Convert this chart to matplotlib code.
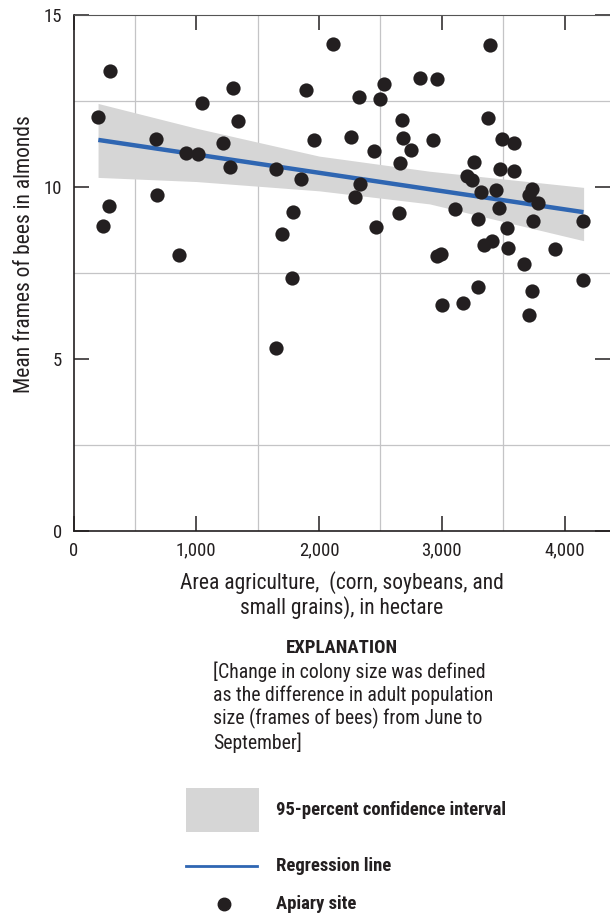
import numpy as np
import matplotlib
matplotlib.use('Agg')
import matplotlib.pyplot as plt
from matplotlib.patches import Rectangle
from matplotlib.lines import Line2D

plt.rcParams['font.family'] = ['Roboto Condensed', 'Roboto', 'DejaVu Sans']

# Apiary sites: area of agriculture (ha) vs mean frames of bees
area = [300, 200, 669, 915, 1016, 1216, 1273, 1043, 1303, 1341, 1653, 1854, 1957, 1892, 2114,
        291, 243, 679, 861, 1789, 1699, 1780, 1650,
        3389, 2819, 2960, 2526, 2326, 2494, 2676, 3378, 2258, 2684, 2928, 3492, 3592, 2746,
        2445, 2657, 3262, 3470, 3587, 3207, 3248, 2331, 2293, 3321, 3438, 3731, 3714, 3782,
        3465, 3110, 2654, 3291, 3741, 4154, 2467, 3535, 3411, 3343, 3541, 3926, 2996, 2960,
        3668, 4148, 3004, 3172, 3297, 3733, 3709]
frames = [13.37, 12.02, 11.38, 10.97, 10.95, 11.26, 10.58, 12.44, 12.88, 11.92, 10.51, 10.21, 11.35, 12.81, 14.16,
          9.44, 8.86, 9.76, 8.02, 9.26, 8.62, 7.36, 5.31,
          14.11, 13.16, 13.14, 12.99, 12.60, 12.55, 11.95, 11.99, 11.45, 11.41, 11.35, 11.38, 11.26, 11.08,
          11.04, 10.68, 10.71, 10.51, 10.46, 10.32, 10.19, 10.07, 9.71, 9.86, 9.90, 9.94, 9.76, 9.52,
          9.37, 9.34, 9.23, 9.05, 9.00, 9.00, 8.83, 8.80, 8.43, 8.31, 8.23, 8.20, 8.03, 7.99,
          7.75, 7.30, 6.56, 6.61, 7.09, 6.98, 6.27]

# Regression line end points
reg_x = [202, 4154]
reg_y = [11.36, 9.26]

# 95-percent confidence band
band_x = [200, 1000, 2000, 2900, 4155]
band_hi = [12.42, 11.70, 10.89, 10.45, 9.98]
band_lo = [10.27, 10.15, 9.88, 9.50, 8.43]

W, H = 610, 913
fig = plt.figure(figsize=(W / 100, H / 100), dpi=100)
ax = fig.add_axes([73.5 / W, 1 - 530.7 / H, (W - 73.5) / W, (530.7 - 14.7) / H])

ax.set_xlim(0, 4370)
ax.set_ylim(0, 15)
ax.set_xticks(np.arange(0, 4370, 500), minor=True)
ax.set_yticks(np.arange(0, 15.1, 2.5), minor=True)
ax.grid(True, which='minor', color='#c4c4c6', lw=0.9, zorder=0)
ax.set_axisbelow(True)

ax.fill_between(band_x, band_lo, band_hi, color='#d6d6d6', lw=0, zorder=1)
ax.plot(reg_x, reg_y, color='#2f66b2', lw=3.2, solid_capstyle='butt', zorder=2)
ax.scatter(area, frames, s=105, color='#231f20', lw=0, zorder=3)

ax.set_xticks([0, 1000, 2000, 3000, 4000])
ax.set_xticklabels(['0', '1,000', '2,000', '3,000', '4,000'])
ax.set_yticks([0, 5, 10, 15])
ax.tick_params(which='major', direction='in', length=11, width=1.1, color='#231f20',
               top=True, right=True, labelsize=13.5, labelcolor='#231f20')
ax.tick_params(axis='x', pad=8)
ax.tick_params(axis='y', pad=8)
ax.tick_params(which='minor', length=0)
ax.spines['right'].set_visible(False)
ax.spines['top'].set_color('#555555')
ax.spines['left'].set_color('#231f20')
ax.spines['bottom'].set_color('#231f20')
ax.spines['left'].set_linewidth(1.2)
ax.spines['bottom'].set_linewidth(1.2)

def fx(px):
    return px / W

def fy(py):
    return 1 - py / H

txt = '#231f20'
fig.text(fx(25), fy(254), 'Mean frames of bees in almonds', rotation=90,
         ha='center', va='center', fontsize=15.5, color=txt)
fig.text(fx(342), fy(595), 'Area agriculture,  (corn, soybeans, and\nsmall grains), in hectare',
         ha='center', va='center', fontsize=15.5, color=txt, linespacing=1.1)

fig.text(fx(342), fy(648), 'EXPLANATION', ha='center', va='center',
         fontsize=13.5, fontweight='bold', color=txt)
fig.text(fx(213), fy(662), '[Change in colony size was defined\nas the difference in adult population\n'
         'size (frames of bees) from June to\nSeptember]',
         ha='left', va='top', fontsize=14.2, color=txt, linespacing=1.2)

# legend entries
fig.patches.append(Rectangle((fx(186), fy(832)), fx(259) - fx(186), fy(788) - fy(832),
                             transform=fig.transFigure, color='#d6d6d6', lw=0))
fig.lines.append(Line2D([fx(186), fx(257)], [fy(866), fy(866)], transform=fig.transFigure,
                        color='#2f66b2', lw=2))
fig.lines.append(Line2D([fx(224)], [fy(904)], transform=fig.transFigure, marker='o',
                        ms=9, color='#231f20', lw=0))
for py, label in [(810, '95-percent confidence interval'), (866, 'Regression line'), (904, 'Apiary site')]:
    fig.text(fx(276), fy(py), label, ha='left', va='center', fontsize=13.4,
             fontweight='bold', color=txt)

fig.savefig('out.png', dpi=100)
